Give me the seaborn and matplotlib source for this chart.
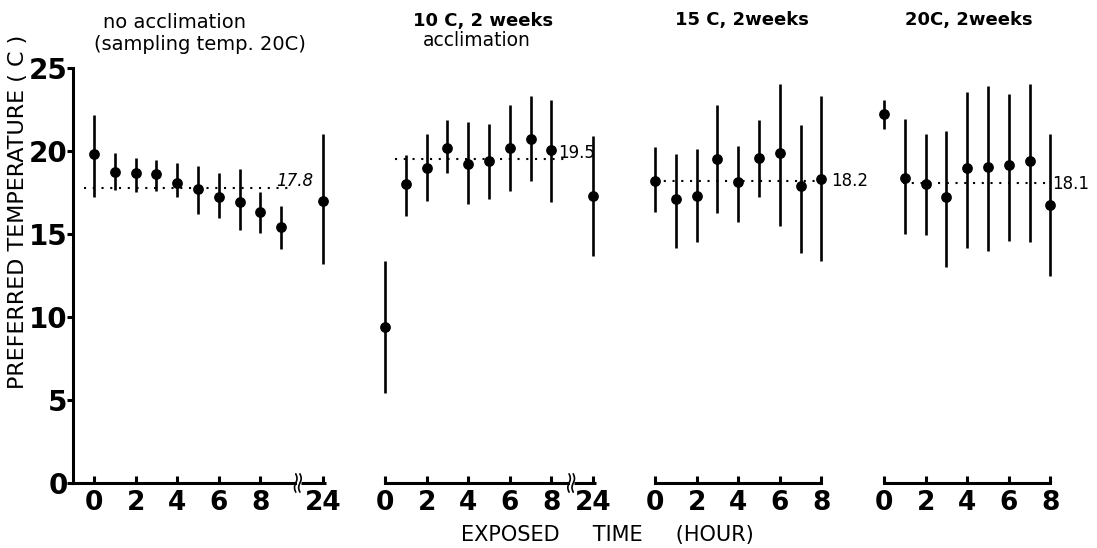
import numpy as np
import pandas as pd
import matplotlib
matplotlib.use("Agg")
import matplotlib.pyplot as plt
import matplotlib.transforms as mtransforms
import seaborn as sns

# ---------------- data ----------------
panel_titles = ["no acclimation\n(sampling temp. 20C)",
                "10 C, 2 weeks\n acclimation",
                "15 C, 2weeks",
                "20C, 2weeks"]

hours_p1 = [0, 1, 2, 3, 4, 5, 6, 7, 8, 9, 24]
mean_p1 = [19.8, 18.75, 18.65, 18.6, 18.1, 17.7, 17.25, 16.95, 16.35, 15.45, 17.0]
lo_p1 = [17.25, 17.65, 17.55, 17.6, 17.2, 16.2, 15.95, 15.25, 15.05, 14.1, 13.2]
hi_p1 = [22.15, 19.9, 19.55, 19.45, 19.3, 19.1, 18.7, 18.9, 17.55, 16.7, 21.0]

hours_p2 = [0, 1, 2, 3, 4, 5, 6, 7, 8, 24]
mean_p2 = [9.4, 18.0, 19.0, 20.2, 19.2, 19.4, 20.2, 20.75, 20.05, 17.3]
lo_p2 = [5.4, 16.1, 17.0, 18.65, 16.8, 17.1, 17.6, 18.2, 16.95, 13.65]
hi_p2 = [13.4, 19.75, 21.0, 21.85, 21.75, 21.65, 22.8, 23.3, 23.1, 20.9]

hours_p3 = [0, 1, 2, 3, 4, 5, 6, 7, 8]
mean_p3 = [18.2, 17.1, 17.3, 19.5, 18.15, 19.6, 19.85, 17.9, 18.3]
lo_p3 = [16.35, 14.15, 14.5, 16.25, 15.7, 17.25, 15.5, 13.85, 13.35]
hi_p3 = [20.25, 19.8, 20.15, 22.75, 20.3, 21.85, 24.05, 21.55, 23.3]

hours_p4 = [0, 1, 2, 3, 4, 5, 6, 7, 8]
mean_p4 = [22.25, 18.4, 18.0, 17.25, 18.95, 19.05, 19.15, 19.4, 16.75]
lo_p4 = [21.3, 15.0, 14.95, 13.0, 14.15, 13.95, 14.6, 14.5, 12.5]
hi_p4 = [23.05, 21.95, 21.05, 21.2, 23.55, 23.9, 23.45, 24.05, 21.0]

overall_means = [17.8, 19.5, 18.2, 18.1]
mean_labels = ["17.8", "19.5", "18.2", "18.1"]
mean_span = [(-0.5, 9.45), (0.5, 8.8), (0.0, 8.0), (0.9, 8.1)]

y_ticks = [0, 5, 10, 15, 20, 25]
x_ticklabels_break = ["0", "2", "4", "6", "8", "24"]
x_ticklabels_plain = ["0", "2", "4", "6", "8"]

# ---------------- layout ----------------
sns.set_style("white")
plt.rcParams["font.family"] = ["DejaVu Sans"]
plt.rcParams["text.color"] = "black"
plt.rcParams["axes.labelcolor"] = "black"
plt.rcParams["xtick.color"] = "black"
plt.rcParams["ytick.color"] = "black"

W, H = 1097, 548
fig = plt.figure(figsize=(W / 100, H / 100), dpi=100)

unit = 20.8
y0_px, y25_px = 483, 68
bottom_f = (H - y0_px) / H
height_f = (y0_px - y25_px) / H

# (zero px, xlim, break position, position of 24 h)
panels = [
    (94, (-1.0, 11.3), 9.8, 11.0),
    (385, (-0.5, 10.5), 8.95, 10.0),
    (655, (-0.5, 8.5), None, None),
    (884, (-0.5, 8.5), None, None),
]
hours = [hours_p1, hours_p2, hours_p3, hours_p4]
means = [mean_p1, mean_p2, mean_p3, mean_p4]
los = [lo_p1, lo_p2, lo_p3, lo_p4]
his = [hi_p1, hi_p2, hi_p3, hi_p4]

lw_axis = 2.2
axes = []
for i, (zpx, xl, brk, pos24) in enumerate(panels):
    left_px = zpx + xl[0] * unit
    width_px = (xl[1] - xl[0]) * unit
    ax = fig.add_axes([left_px / W, bottom_f, width_px / W, height_f])
    axes.append(ax)
    h = np.array(hours[i], dtype=float)
    pos = np.where(h == 24, pos24 if pos24 is not None else 24, h)
    df = pd.DataFrame({"pos": pos, "mean": means[i], "lo": los[i], "hi": his[i]})

    ax.vlines(df["pos"], df["lo"], df["hi"], color="black", lw=1.9, zorder=2)
    sns.scatterplot(data=df, x="pos", y="mean", ax=ax, color="black", s=60,
                    edgecolor="black", linewidth=0, zorder=3, legend=False)

    xs, xe = mean_span[i]
    ax.plot([xs, xe], [overall_means[i]] * 2, color="black", lw=1.5,
            linestyle=(0, (1, 3.2)), zorder=1)

    ax.set_xlim(*xl)
    ax.set_ylim(0, 25)
    ax.set_xlabel("")
    ax.set_ylabel("")

    for s in ["top", "right"]:
        ax.spines[s].set_visible(False)
    ax.spines["bottom"].set_linewidth(lw_axis)
    ax.spines["left"].set_linewidth(lw_axis)
    ax.spines["bottom"].set_color("black")
    ax.spines["left"].set_color("black")

    ax.tick_params(axis="x", bottom=True, direction="in", length=5, width=2.2,
                   pad=5, labelsize=19, colors="black")
    if i == 0:
        ax.set_yticks(y_ticks)
        ax.set_yticklabels([str(v) for v in y_ticks])
        ax.tick_params(axis="y", left=True, direction="out", length=4, width=2.2,
                       pad=0, labelsize=20, colors="black")
        for lab in ax.get_yticklabels():
            lab.set_fontweight("bold")
    else:
        ax.spines["left"].set_visible(False)
        ax.set_yticks([])

    trans = mtransforms.blended_transform_factory(ax.transData, ax.transAxes)
    if brk is not None:
        ax.set_xticks([0, 2, 4, 6, 8, pos24])
        ax.set_xticklabels(x_ticklabels_break)
        start = xl[0] if i == 0 else 0
        ax.spines["bottom"].set_bounds(start, brk - 0.13)
        ax.plot([brk + 0.13, pos24 + 0.15], [0, 0], color="black", lw=lw_axis,
                transform=trans, clip_on=False, solid_capstyle="butt")
        t = np.linspace(-1, 1, 30)
        for off in (-0.1, 0.1):
            ax.plot(brk + off + 0.06 * np.sin(np.pi * t), 0.022 * t,
                    color="black", lw=1.2, transform=trans, clip_on=False)
    else:
        ax.set_xticks([0, 2, 4, 6, 8])
        ax.set_xticklabels(x_ticklabels_plain)
        ax.spines["bottom"].set_bounds(0, 8)
    for lab in ax.get_xticklabels():
        lab.set_fontweight("bold")

    ax.patch.set_alpha(0)

# mean labels
label_pos = [(8.75, 18.2, "italic"), (8.3, 19.9, "normal"),
             (8.45, 18.2, "normal"), (8.1, 18.0, "normal")]
for i, ax in enumerate(axes):
    lx, ly, st = label_pos[i]
    ax.text(lx, ly, mean_labels[i], fontsize=12, ha="left", va="center",
            style=st, clip_on=False, color="black")

# titles
fig.text(103 / W, 1 - 22 / H, "no acclimation", fontsize=14, ha="left", va="center")
fig.text(94 / W, 1 - 45 / H, "(sampling temp. 20C)", fontsize=14, ha="left", va="center")
fig.text(413 / W, 1 - 21 / H, "10 C, 2 weeks", fontsize=13, fontweight="bold",
         ha="left", va="center")
fig.text(423 / W, 1 - 41 / H, "acclimation", fontsize=13.5, ha="left", va="center")
fig.text(675 / W, 1 - 20 / H, "15 C, 2weeks", fontsize=13, fontweight="bold",
         ha="left", va="center")
fig.text(905 / W, 1 - 20 / H, "20C, 2weeks", fontsize=13, fontweight="bold",
         ha="left", va="center")

# axis labels
fig.text(18 / W, 1 - 212 / H, "PREFERRED TEMPERATURE ( C )", rotation=90,
         fontsize=16, ha="center", va="center")
fig.text(607 / W, 1 - 535 / H, "EXPOSED     TIME     (HOUR)", fontsize=15,
         ha="center", va="center")

fig.savefig("out.png", dpi=100)
